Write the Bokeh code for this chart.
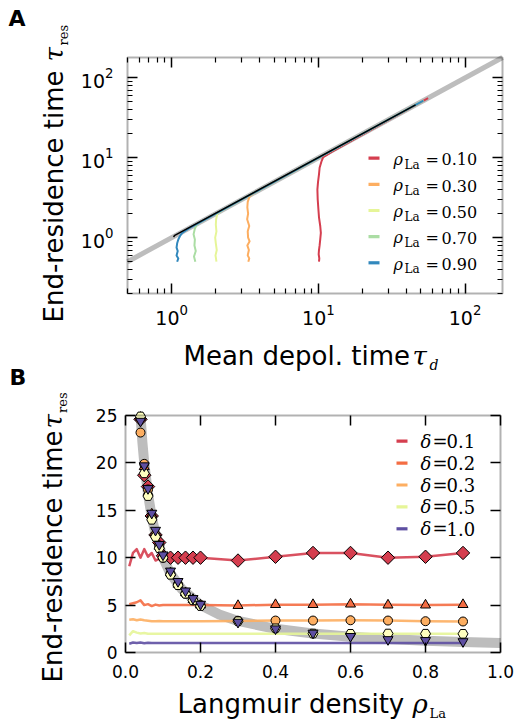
import math
import numpy as np
from bokeh.plotting import figure
from bokeh.models import (LogAxis, LinearAxis, FixedTicker, Label, BoxAnnotation,
                          PrintfTickFormatter, Range1d)
from bokeh.layouts import column
from bokeh.embed import file_html
from bokeh.resources import INLINE

# ---------------- Panel A data ----------------
rho_vals = [0.10, 0.30, 0.50, 0.70, 0.90]
rho_colors = ["#d53e4f", "#fdae61", "#e6f598", "#abdda4", "#3288bd"]

a_red_x = [10.1, 10.15, 10.05, 10.1, 10.2, 10.3, 10.4, 10.3, 10.1, 10.0, 9.9, 9.85, 9.95, 10.1, 10.2, 10.5, 10.8, 12.5, 56.0]
a_red_y = [0.50, 0.55, 0.62, 0.70, 0.80, 0.95, 1.15, 1.4, 1.8, 2.3, 3.0, 4.0, 5.0, 6.2, 7.5, 9.0, 10.2, 12.0, 56.0]
a_org_x = [3.33, 3.38, 3.30, 3.36, 3.28, 3.40, 3.32, 3.30, 3.38, 3.27, 3.32, 3.28, 3.30, 3.40, 3.7, 52.0]
a_org_y = [0.50, 0.55, 0.60, 0.70, 0.80, 0.90, 1.00, 1.20, 1.40, 1.70, 2.00, 2.40, 2.80, 3.30, 3.7, 52.0]
a_yel_x = [2.02, 1.99, 2.03, 2.00, 1.98, 2.02, 2.00, 2.01, 2.05, 2.25, 52.0]
a_yel_y = [0.50, 0.60, 0.70, 0.85, 1.00, 1.20, 1.45, 1.70, 2.00, 2.25, 52.0]
a_grn_x = [1.45, 1.42, 1.46, 1.43, 1.44, 1.41, 1.44, 1.48, 1.58, 52.0]
a_grn_y = [0.50, 0.58, 0.68, 0.80, 0.95, 1.10, 1.30, 1.45, 1.58, 52.0]
a_blu_x = [1.09, 1.11, 1.08, 1.10, 1.08, 1.09, 1.11, 1.14, 1.18, 1.3, 52.0]
a_blu_y = [0.50, 0.55, 0.60, 0.68, 0.75, 0.85, 0.95, 1.05, 1.15, 1.3, 52.0]
a_series_x = [a_red_x, a_org_x, a_yel_x, a_grn_x, a_blu_x]
a_series_y = [a_red_y, a_org_y, a_yel_y, a_grn_y, a_blu_y]

diag_x = [0.5, 180.0]
diag_y = [0.5, 180.0]
black_x = [1.03, 1.05, 46.0]
black_y = [1.02, 1.07, 46.0]

a_xlim = (0.5, 180.0)
a_ylim = (0.2, 180.0)
a_major = [0.1, 1.0, 10.0, 100.0, 1000.0]
a_minor_mult = [2, 3, 4, 5, 6, 7, 8, 9]

# ---------------- Panel B data ----------------
deltas = [0.1, 0.2, 0.3, 0.5, 1.0]
delta_colors = ["#d53e4f", "#f46d43", "#fdae61", "#e6f598", "#5e4fa2"]
delta_mk_fill = ["#d53e4f", "#f46d43", "#fdae61", "#ffffbf", "#5e4fa2"]
delta_markers = ["square", "triangle", "circle", "hex", "inverted_triangle"]
delta_mk_size = [9.5, 10, 9, 10, 10]
delta_mk_angle = [np.pi / 4, 0, 0, 0, 0]

rho_line = [0.01, 0.02, 0.03, 0.04, 0.05, 0.06, 0.07, 0.08, 0.09, 0.10, 0.12, 0.14,
            0.16, 0.18, 0.20, 0.30, 0.40, 0.50, 0.60, 0.70, 0.80, 0.90]
ln_d01 = [9.1, 10.5, 10.9, 10.0, 10.9, 10.1, 10.5, 9.7, 9.9, 10.0, 9.9, 10.0,
          10.0, 10.0, 10.0, 9.7, 10.1, 10.5, 10.5, 10.0, 10.1, 10.5]
ln_d02 = [5.1, 5.2, 5.3, 5.5, 5.0, 5.1, 4.9, 5.05, 4.95, 5.0, 5.0, 5.0,
          5.0, 5.0, 5.0, 4.95, 5.05, 5.05, 5.1, 5.05, 5.0, 5.05]
ln_d03 = [3.45, 3.5, 3.4, 3.48, 3.4, 3.35, 3.3, 3.3, 3.32, 3.3, 3.3, 3.3,
          3.3, 3.3, 3.3, 3.33, 3.37, 3.37, 3.4, 3.37, 3.3, 3.27]
ln_d05 = [1.8, 2.25, 2.1, 2.0, 2.05, 1.98, 1.97, 1.97, 1.97, 1.97, 1.97, 1.97,
          1.97, 1.97, 1.97, 1.97, 1.98, 1.98, 1.97, 1.98, 1.98, 1.97]
ln_d10 = [0.93, 1.05, 1.0, 1.05, 0.98, 1.03, 1.0, 1.0, 1.0, 1.0, 1.0, 1.0,
          1.0, 1.0, 1.0, 1.0, 1.0, 1.0, 1.0, 1.0, 1.0, 1.0]
b_lines = [ln_d01, ln_d02, ln_d03, ln_d05, ln_d10]

rho_mk = [0.04, 0.05, 0.06, 0.07, 0.08, 0.09, 0.10, 0.12, 0.14, 0.16, 0.18, 0.20,
          0.30, 0.40, 0.50, 0.60, 0.70, 0.80, 0.90]
mk_d01 = [24.6, 18.7, 17.5, 14.4, 12.4, 11.6, 10.2, 10.0, 10.0, 10.0, 10.0, 10.0,
          9.7, 10.1, 10.5, 10.5, 10.0, 10.1, 10.5]
mk_d02 = [24.8, 19.6, 16.9, 14.6, 12.6, 11.2, 10.1, 8.4, 7.2, 6.3, 5.6, 5.0,
          4.95, 5.05, 5.05, 5.1, 5.0, 5.0, 5.05]
mk_d03 = [23.2, 19.9, 17.2, 14.2, 12.4, 11.3, 10.0, 8.3, 7.2, 6.2, 5.5, 5.0,
          3.35, 3.37, 3.37, 3.4, 3.37, 3.3, 3.27]
mk_d05 = [24.9, 18.9, 16.5, 14.0, 12.2, 11.0, 10.0, 8.2, 7.1, 6.2, 5.5, 4.9,
          3.3, 2.55, 2.0, 1.97, 2.0, 1.98, 1.97]
mk_d10 = [24.4, 19.7, 17.3, 14.7, 12.9, 11.4, 10.3, 8.6, 7.5, 6.5, 5.7, 5.1,
          3.2, 2.5, 2.05, 1.7, 1.37, 1.27, 1.15]
b_marks = [mk_d01, mk_d02, mk_d03, mk_d05, mk_d10]

rho_th = [0.04, 0.045, 0.05, 0.06, 0.07, 0.08, 0.10, 0.12, 0.15, 0.20, 0.25,
          0.30, 0.40, 0.50, 0.60, 0.70, 0.80, 0.90, 1.00]
tau_th = [25.0, 22.2, 20.0, 16.7, 14.3, 12.5, 10.0, 8.3, 6.7, 5.0, 4.0,
          3.33, 2.5, 2.0, 1.67, 1.43, 1.25, 1.11, 1.0]

b_xlim = (0.0, 1.0)
b_ylim = (0.0, 25.0)
b_xticks = [0.0, 0.2, 0.4, 0.6, 0.8, 1.0]
b_yticks = [0, 5, 10, 15, 20, 25]

# ---------------- layout constants (pixels) ----------------
W = 519
A_H = 391                                # panel A canvas height
A_L, A_R, A_T, A_B = 127, 502, 57, 293   # plot box of panel A
B_TOP, B_H = 391, 329                    # panel B canvas top / height
B_L, B_R, B_T, B_B = 125, 500, 415, 652  # plot box of panel B (page px)
SANS = "DejaVu Sans"
SERIF = "DejaVu Serif"
BASE_K = 0.36   # baseline correction factor for Label placement


def style_axis(ax, fs, standoff, show=True, minor=True):
    ax.axis_line_color = None
    ax.major_tick_in = 10
    ax.major_tick_out = 0
    ax.major_tick_line_width = 1.5
    ax.major_tick_line_color = "black"
    ax.minor_tick_in = 5 if minor else 0
    ax.minor_tick_out = 0
    ax.minor_tick_line_width = 1.2
    ax.minor_tick_line_color = "black" if minor else None
    ax.major_label_text_font = SANS
    ax.major_label_text_font_size = fs
    ax.major_label_standoff = standoff
    ax.major_label_text_color = "black" if show else None


def add_label(p, fy0, px, py, text, size, font=SANS, style="normal", rotated=False):
    shift = BASE_K * size
    if rotated:
        x, y, ang = px - shift, fy0 - py, np.pi / 2
    else:
        x, y, ang = px, fy0 - (py - shift), 0.0
    p.add_layout(Label(x=x, y=y, x_units="screen", y_units="screen",
                       text=text, text_font=font, text_font_size=f"{size}px",
                       text_font_style=style, angle=ang, text_align="left",
                       text_baseline="alphabetic", text_color="black"))


def add_box(p, fy0, x1, x2, yc, color, h=1.6):
    p.add_layout(BoxAnnotation(left=x1, right=x2, bottom=fy0 - (yc + h), top=fy0 - (yc - h),
                               left_units="screen", right_units="screen",
                               top_units="screen", bottom_units="screen",
                               fill_color=color, fill_alpha=1.0, line_color=None))


def base_fig(h, xr, yr, xtype, ytype):
    p = figure(width=W, height=h, x_range=xr, y_range=yr, x_axis_type=xtype, y_axis_type=ytype,
               output_backend="svg", toolbar_location=None, min_border=0)
    p.title.visible = False
    p.xgrid.visible = False
    p.ygrid.visible = False
    p.outline_line_color = None
    p.background_fill_color = "white"
    p.border_fill_color = "white"
    return p


def within(vals, lim):
    return [v for v in vals if lim[0] <= v <= lim[1]]


# ================= Panel A =================
lx0, lx1 = math.log10(a_xlim[0]), math.log10(a_xlim[1])
ly0, ly1 = math.log10(a_ylim[0]), math.log10(a_ylim[1])
kx = (A_R - A_L) / (lx1 - lx0)
ky = (A_B - A_T) / (ly1 - ly0)
xrA = Range1d(10 ** (lx0 - A_L / kx), 10 ** (lx1 + (W - A_R) / kx))
yrA = Range1d(10 ** (ly0 - (A_H - A_B) / ky), 10 ** (ly1 + A_T / ky))
pA = base_fig(A_H, xrA, yrA, "log", "log")

a_minor = [m * d for d in a_major for m in a_minor_mult]
tkAx = FixedTicker(ticks=within(a_major, a_xlim), minor_ticks=within(a_minor, a_xlim))
tkAy = FixedTicker(ticks=within(a_major, a_ylim), minor_ticks=within(a_minor, a_ylim))
bx = pA.xaxis[0]
bx.ticker = tkAx
bx.fixed_location = a_ylim[0]
bx.bounds = a_xlim
style_axis(bx, "19px", 10)
lyax = pA.yaxis[0]
lyax.ticker = tkAy
lyax.fixed_location = a_xlim[0]
lyax.bounds = a_ylim
style_axis(lyax, "19px", 14)
topA = LogAxis(ticker=tkAx, fixed_location=a_ylim[1], bounds=a_xlim)
style_axis(topA, "19px", 0, show=False)
pA.add_layout(topA, "above")
rightA = LogAxis(ticker=tkAy, fixed_location=a_xlim[1], bounds=a_ylim)
style_axis(rightA, "19px", 0, show=False)
pA.add_layout(rightA, "right")

pA.line(diag_x, diag_y, line_color="#bdbdbd", line_width=5)
for xs, ys, c in zip(a_series_x, a_series_y, rho_colors):
    pA.line(xs, ys, line_color=c, line_width=2, line_join="round")
pA.line(black_x, black_y, line_color="black", line_width=1.5)
pA.add_layout(BoxAnnotation(left=a_xlim[0], right=a_xlim[1], bottom=a_ylim[0], top=a_ylim[1],
                            fill_color=None, line_color="black", line_width=2))

# legend A
legA_y0, legA_dy = 157.7, 26.15
for i, (r, c) in enumerate(zip(rho_vals, rho_colors)):
    yc = legA_y0 + i * legA_dy
    add_box(pA, A_H, 368, 379, yc, c)
    add_label(pA, A_H, 393, yc + 7, "ρ", 16, SERIF, "italic")
    add_label(pA, A_H, 404, yc + 11, "La", 12, SERIF)
    add_label(pA, A_H, 425, yc + 7, "=", 16, SERIF)
    add_label(pA, A_H, 441, yc + 7, f"{r:.2f}", 16, SERIF)

# axis labels A
add_label(pA, A_H, 63, 322, "End-residence time", 26, SANS, rotated=True)
add_label(pA, A_H, 63, 61, "τ", 26, SERIF, "italic", rotated=True)
add_label(pA, A_H, 68, 45, "res", 13, SERIF, rotated=True)
add_label(pA, A_H, 183, 365, "Mean depol. time", 26, SANS)
add_label(pA, A_H, 412, 365, "τ", 26, SERIF, "italic")
add_label(pA, A_H, 429, 370, "d", 14, SERIF, "italic")
add_label(pA, A_H, 8, 26, "A", 22, SANS, "bold")
add_label(pA, A_H, 9, 385, "B", 22, SANS, "bold")

# ================= Panel B =================
kbx = (B_R - B_L) / (b_xlim[1] - b_xlim[0])
kby = (B_B - B_T) / (b_ylim[1] - b_ylim[0])
B_BOT = B_TOP + B_H
xrB = Range1d(b_xlim[0] - B_L / kbx, b_xlim[1] + (W - B_R) / kbx)
yrB = Range1d(b_ylim[0] - (B_BOT - B_B) / kby, b_ylim[1] + (B_T - B_TOP) / kby)
pB = base_fig(B_H, xrB, yrB, "linear", "linear")

tkBx = FixedTicker(ticks=b_xticks)
tkBy = FixedTicker(ticks=b_yticks)
bxB = pB.xaxis[0]
bxB.ticker = tkBx
bxB.fixed_location = b_ylim[0]
bxB.bounds = b_xlim
bxB.formatter = PrintfTickFormatter(format="%.1f")
style_axis(bxB, "17px", 12, minor=False)
lyB = pB.yaxis[0]
lyB.ticker = tkBy
lyB.fixed_location = b_xlim[0]
lyB.bounds = b_ylim
style_axis(lyB, "17px", 8, minor=False)
topB = LinearAxis(ticker=tkBx, fixed_location=b_ylim[1], bounds=b_xlim)
style_axis(topB, "17px", 0, show=False, minor=False)
pB.add_layout(topB, "above")
rightB = LinearAxis(ticker=tkBy, fixed_location=b_xlim[1], bounds=b_ylim)
style_axis(rightB, "17px", 0, show=False, minor=False)
pB.add_layout(rightB, "right")

pB.line(rho_th, tau_th, line_color="#bdbdbd", line_width=10, line_join="round")
for ys, mks, c, fc, mk, ms, ang in zip(b_lines, b_marks, delta_colors, delta_mk_fill,
                                       delta_markers, delta_mk_size, delta_mk_angle):
    pB.line(rho_line, ys, line_color=c, line_width=2.5, line_alpha=0.9, line_join="round")
    pB.scatter(rho_mk, mks, marker=mk, size=ms, angle=ang, fill_color=fc,
               line_color="black", line_width=1)
pB.add_layout(BoxAnnotation(left=b_xlim[0], right=b_xlim[1], bottom=b_ylim[0], top=b_ylim[1],
                            fill_color=None, line_color="black", line_width=2))

# legend B
legB_y0, legB_dy = 440.7, 21.9
for i, (d, c) in enumerate(zip(deltas, delta_colors)):
    yc = legB_y0 + i * legB_dy
    add_box(pB, B_BOT, 396, 407, yc, c)
    add_label(pB, B_BOT, 420, yc + 6.5, "δ", 18, SERIF, "italic")
    add_label(pB, B_BOT, 432, yc + 6.5, "=", 18, SERIF)
    add_label(pB, B_BOT, 446, yc + 6.5, f"{d:.1f}", 18, SERIF)

# axis labels B
add_label(pB, B_BOT, 62, 682, "End-residence time", 26, SANS, rotated=True)
add_label(pB, B_BOT, 62, 428, "τ", 26, SERIF, "italic", rotated=True)
add_label(pB, B_BOT, 67, 412.5, "res", 13, SERIF, rotated=True)
add_label(pB, B_BOT, 177, 713, "Langmuir density", 26, SANS)
add_label(pB, B_BOT, 412, 713, "ρ", 26, SERIF, "italic")
add_label(pB, B_BOT, 429, 718, "La", 13, SERIF)

layout = column(pA, pB, spacing=0)
open("out.html", "w").write(file_html(layout, INLINE))
